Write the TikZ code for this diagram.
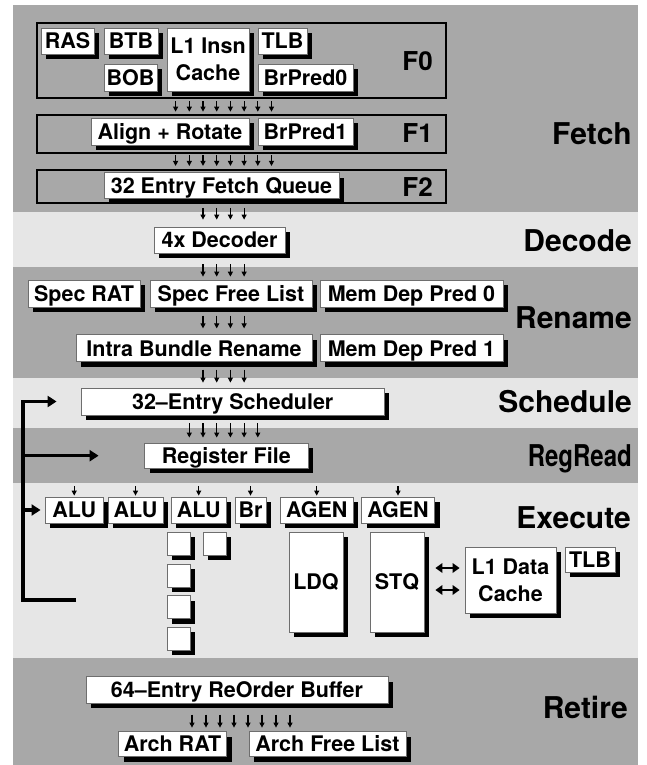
\documentclass[tikz,border=0pt]{standalone}
\usepackage{fontspec}
\setmainfont{TeX Gyre Heros}
\usetikzlibrary{shadows,arrows.meta,calc}
\definecolor{bandD}{RGB}{168,168,168}
\definecolor{bandL}{RGB}{230,230,230}
\definecolor{boxline}{RGB}{110,110,110}
\tikzset{
  boxbase/.style={draw=boxline, line width=0.8bp, fill=white, inner sep=0pt,
    font=\fontsize{21.5bp}{27bp}\selectfont\bfseries,
    drop shadow={shadow xshift=5bp, shadow yshift=-5bp, fill=black, opacity=1}},
  unit/.style={boxbase, text height=15.5bp, text depth=0pt},
  unitm/.style={boxbase, align=center},
  sz/.style 2 args={minimum width=#1bp, minimum height=#2bp},
  cont/.style={draw=black, line width=2bp, inner sep=0pt},
  stage/.style={anchor=east, inner sep=0pt, font=\fontsize{30bp}{30bp}\selectfont\bfseries, text height=21.5bp, text depth=0pt},
  flabel/.style={anchor=east, inner sep=0pt, font=\fontsize{26bp}{26bp}\selectfont\bfseries, text height=18.7bp, text depth=0pt},
  tick/.style={line width=1.1bp, -{Triangle[length=5bp 0 0, width=5bp 0 0]}},
  fb/.style={line width=3.2bp, -{Triangle[length=9bp 0 0, width=11bp 0 0]}, line join=miter},
  dbl/.style={line width=2.6bp, {Triangle[length=7bp 0 0, width=9.5bp 0 0]}-{Triangle[length=7bp 0 0, width=9.5bp 0 0]}},
}
\begin{document}
\begin{tikzpicture}[x=1bp,y=-1bp]
\useasboundingbox (0,0) rectangle (647,765);
\fill[white] (0,0) rectangle (647,765);
% bands
\fill[bandD] (13,5) rectangle (638,211.5);
\fill[bandL] (13,211.5) rectangle (638,266.7);
\fill[bandD] (13,266.7) rectangle (638,378);
\fill[bandL] (13,378) rectangle (638,428);
\fill[bandD] (13,428) rectangle (638,483);
\fill[bandL] (13,483) rectangle (638,658);
\fill[bandD] (13,658) rectangle (638,765);
% stage labels
\node[stage] (lFetch) at (632,134) {Fetch};
\node[stage] (lDecode) at (632,241) {Decode};
\node[stage] (lRename) at (632,318) {Rename};
\node[stage] (lSched) at (632,401.5) {Schedule};
\node[stage] (lReg) at (632,456) {\scalebox{0.8}[1]{RegRead}};
\node[stage] (lExe) at (631,517.5) {Execute};
\node[stage] (lRet) at (628,708) {Retire};
% fetch containers
\node[cont, sz={409}{75}] (F0) at (241.5,60.5) {};
\node[cont, sz={409}{37.5}] (F1) at (241.5,133.9) {};
\node[cont, sz={409}{33.3}] (F2) at (241.5,186.6) {};
\node[flabel] (lF0) at (433,61) {F0};
\node[flabel] (lF1) at (433,133.5) {F1};
\node[flabel] (lF2) at (433,187) {F2};
% F0 units
\node[unit, sz={53}{26}] (RAS) at (67.5,41) {RAS};
\node[unit, sz={54}{26}] (BTB) at (131,41) {BTB};
\node[unit, sz={53}{27}] (BOB) at (130.5,77.5) {BOB};
\node[unitm, sz={82}{63}] (L1I) at (208,59.5) {L1 Insn\\Cache};
\node[unit, sz={49}{26}] (TLBi) at (282.5,41) {TLB};
\node[unit, sz={95}{27}] (BrP0) at (305.5,77.5) {BrPred0};
% F1, F2
\node[unit, sz={158}{27}] (Align) at (170,131.5) {Align + Rotate};
\node[unit, sz={95}{27}] (BrP1) at (305.5,131.5) {BrPred1};
\node[unit, sz={235}{26}] (FQ) at (221.5,185.5) {32 Entry Fetch Queue};
% decode
\node[unit, sz={131}{26}] (Dec) at (219.5,240) {4x Decoder};
% rename
\node[unit, sz={112}{27}] (SRAT) at (84,293.5) {Spec RAT};
\node[unit, sz={162}{27}] (SFL) at (231,293.5) {Spec Free List};
\node[unit, sz={183}{27}] (MDP0) at (411.5,293.5) {Mem Dep Pred 0};
\node[unit, sz={236}{27}] (IBR) at (194,348.3) {Intra Bundle Rename};
\node[unit, sz={183}{27}] (MDP1) at (411.5,348.3) {Mem Dep Pred 1};
% schedule, regread
\node[unit, sz={302.6}{27}] (Sched) at (232.7,401.5) {32--Entry Scheduler};
\node[unit, sz={163.4}{25.5}] (Reg) at (226.3,455.7) {Register File};
% execute
\node[unit, sz={57.5}{26}] (ALU1) at (74.2,510) {ALU};
\node[unit, sz={55}{26}] (ALU2) at (135.5,510) {ALU};
\node[unit, sz={54.5}{26}] (ALU3) at (198.7,510) {ALU};
\node[unit, sz={31}{26}] (Br) at (250.5,510) {Br};
\node[unit, sz={72.5}{26}] (AGEN1) at (316.7,510) {AGEN};
\node[unit, sz={73}{26}] (AGEN2) at (398,510) {AGEN};
\node[unit, sz={23}{23}] (sqA) at (178.5,543.5) {};
\node[unit, sz={23}{23}] (sqB) at (178.5,575.5) {};
\node[unit, sz={23}{23}] (sqC) at (178.5,607) {};
\node[unit, sz={23}{23}] (sqD) at (178.5,638.5) {};
\node[unit, sz={23}{23}] (sqE) at (214.5,543.5) {};
\node[unit, sz={54}{100}] (LDQ) at (316,582) {LDQ};
\node[unit, sz={54}{100}] (STQ) at (397,582) {STQ};
\node[unitm, sz={91}{66}] (L1D) at (510.5,580) {L1 Data\\Cache};
\node[unit, sz={50}{25}] (TLBd) at (590,559.5) {TLB};
% retire
\node[unit, sz={302}{26.5}] (ROB) at (237,690) {64--Entry ReOrder Buffer};
\node[unit, sz={108}{25}] (ARAT) at (172.5,744.2) {Arch RAT};
\node[unit, sz={157}{25}] (AFL) at (327.4,744.2) {Arch Free List};
% tick arrows
\foreach \i in {0,...,7}{
  \pgfmathsetmacro\xx{175.6+13.7*\i}
  \draw[tick, shorten <=2bp, shorten >=2.5bp] (\xx,0 |- F0.south) -- (\xx,0 |- F1.north);
  \draw[tick, shorten <=1.5bp, shorten >=3bp] (\xx,0 |- F1.south) -- (\xx,0 |- F2.north);
}
\foreach \i in {2,...,5}{
  \pgfmathsetmacro\xx{175.6+13.7*\i}
  \draw[tick, shorten <=3.7bp, shorten >=7bp] (\xx,0 |- F2.south) -- (\xx,0 |- Dec.north);
  \draw[tick, shorten <=11bp, shorten >=3bp] (\xx,0 |- Dec.south) -- (\xx,0 |- SFL.north);
  \draw[tick, shorten <=8.3bp, shorten >=6bp] (\xx,0 |- SFL.south) -- (\xx,0 |- IBR.north);
  \draw[tick, shorten <=7.3bp, shorten >=5bp] (\xx,0 |- IBR.south) -- (\xx,0 |- Sched.north);
}
\foreach \i in {1,...,6}{
  \pgfmathsetmacro\xx{175.6+13.7*\i}
  \draw[tick, shorten <=8bp, shorten >=5bp] (\xx,0 |- Sched.south) -- (\xx,0 |- Reg.north);
}
\foreach \u in {ALU1,ALU2,ALU3,Br,AGEN1,AGEN2}{
  \draw[tick, shorten <=17.5bp, shorten >=1bp] (\u.north |- Reg.south) -- (\u.north);
}
\foreach \i in {0,...,7}{
  \pgfmathsetmacro\xx{192+14*\i}
  \draw[tick, shorten <=11bp, shorten >=3.7bp] (\xx,0 |- ROB.south) -- (\xx,0 |- ARAT.north);
}
% feedback path
\coordinate (fbEnd) at (76,600);
\coordinate (fbCorner) at (23,600);
\draw[fb] (fbEnd) -- (fbCorner) |- ([xshift=-24.4bp]Sched.west);
\draw[fb] (fbCorner |- Reg.west) -- ([xshift=-45.6bp]Reg.west);
\draw[fb] (fbCorner |- ALU1.west) -- ([xshift=-4.5bp]ALU1.west);
% STQ <-> L1 data cache
\coordinate (dA) at ([yshift=12bp]L1D.west);
\coordinate (dB) at ([yshift=-10bp]L1D.west);
\draw[dbl, shorten <=11bp, shorten >=5bp] (STQ.east |- dA) -- (dA);
\draw[dbl, shorten <=11bp, shorten >=5bp] (STQ.east |- dB) -- (dB);
\end{tikzpicture}
\end{document}
